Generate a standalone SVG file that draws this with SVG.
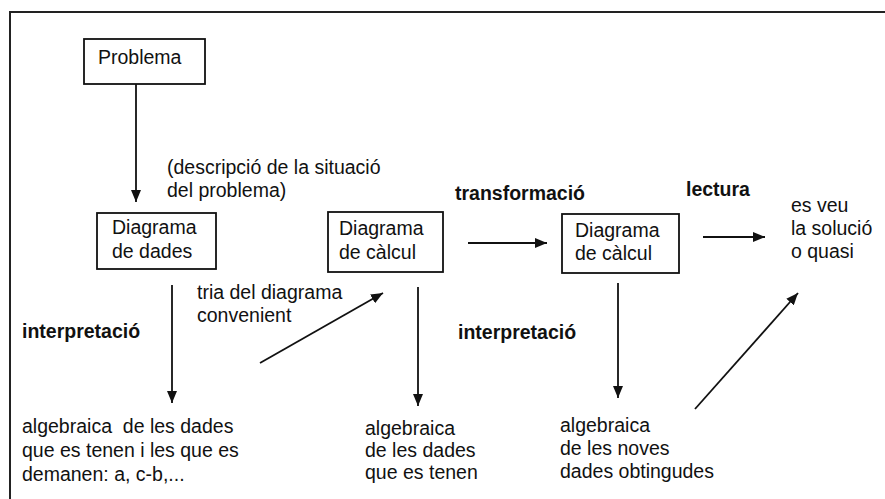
<svg xmlns="http://www.w3.org/2000/svg" width="885" height="499" viewBox="0 0 885 499">
  <style>
    text { font-family: "Liberation Sans", Arial, sans-serif; font-size: 19.5px; fill: #111; }
    .b { font-weight: bold; }
    .box { fill: #fff; stroke: #111; stroke-width: 1.8; }
    .conn line { stroke: #111; stroke-width: 1.8; marker-end: url(#ah); }
  </style>
  <defs>
    <marker id="ah" viewBox="0 0 12 10" refX="12" refY="5" markerWidth="12" markerHeight="10" markerUnits="userSpaceOnUse" orient="auto">
      <path d="M0,0 L12,5 L0,10 z" fill="#111"/>
    </marker>
  </defs>
  <rect x="0" y="0" width="885" height="499" fill="#fff"/>
  <path d="M10,520 L10,12 L900,12" fill="none" stroke="#222" stroke-width="2"/>

  <g id="problema">
    <rect class="box" x="84" y="39" width="121" height="45"/>
    <text x="98" y="64">Problema</text>
  </g>
  <g id="diagrama-dades">
    <rect class="box" x="97" y="213" width="119" height="56"/>
    <text x="112" y="234">Diagrama</text>
    <text x="112" y="258">de dades</text>
  </g>
  <g id="diagrama-calcul-1">
    <rect class="box" x="328" y="212" width="115" height="60"/>
    <text x="339" y="235">Diagrama</text>
    <text x="339" y="259">de càlcul</text>
  </g>
  <g id="diagrama-calcul-2">
    <rect class="box" x="562" y="214" width="117" height="59"/>
    <text x="575" y="237">Diagrama</text>
    <text x="575" y="260">de càlcul</text>
  </g>
  <g id="solucio">
    <text x="791" y="212">es veu</text>
    <text x="791" y="235">la solució</text>
    <text x="791" y="258">o quasi</text>
  </g>
  <g id="algebraica-1">
    <text x="22" y="433" xml:space="preserve">algebraica  de les dades</text>
    <text x="22" y="457">que es tenen i les que es</text>
    <text x="22" y="481">demanen: a, c-b,...</text>
  </g>
  <g id="algebraica-2">
    <text x="365" y="435">algebraica</text>
    <text x="365" y="457">de les dades</text>
    <text x="365" y="479">que es tenen</text>
  </g>
  <g id="algebraica-3">
    <text x="560" y="432">algebraica</text>
    <text x="560" y="455">de les noves</text>
    <text x="560" y="478">dades obtingudes</text>
  </g>

  <g id="connectors" class="conn">
    <line x1="136" y1="84" x2="136" y2="202"/>
    <line x1="172" y1="285" x2="172" y2="403"/>
    <line x1="260" y1="363" x2="383" y2="293"/>
    <line x1="418" y1="287" x2="418" y2="406"/>
    <line x1="468" y1="243" x2="547" y2="243"/>
    <line x1="618" y1="283" x2="618" y2="398"/>
    <line x1="703" y1="237" x2="765" y2="237"/>
    <line x1="695" y1="409" x2="798" y2="293"/>
  </g>

  <g id="labels">
    <text x="167" y="174">(descripció de la situació</text>
    <text x="167" y="197">del problema)</text>
    <text class="b" x="455" y="200">transformació</text>
    <text class="b" x="686" y="196">lectura</text>
    <text x="197" y="299">tria del diagrama</text>
    <text x="197" y="322">convenient</text>
    <text class="b" x="22" y="338">interpretació</text>
    <text class="b" x="458" y="339">interpretació</text>
  </g>
</svg>
